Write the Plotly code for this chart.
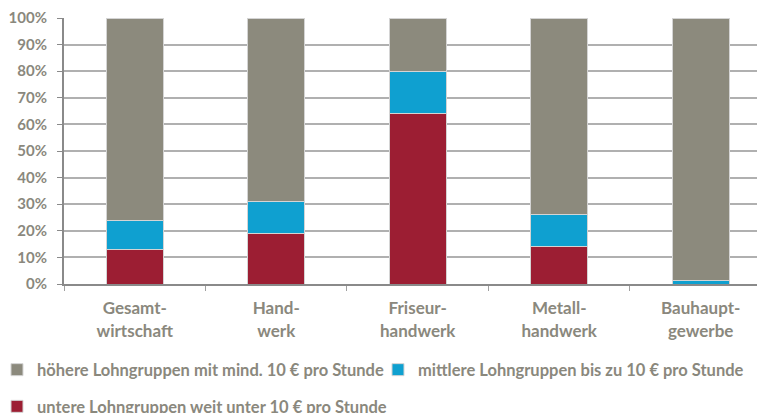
import plotly.graph_objects as go

categories = ["Gesamt-<br>wirtschaft", "Hand-<br>werk", "Friseur-<br>handwerk", "Metall-<br>handwerk", "Bauhaupt-<br>gewerbe"]
untere = [13, 19, 64, 14, 0]
mittlere = [11, 12, 16, 12, 1.5]
hoehere = [76, 69, 20, 74, 98.5]

names = ["untere Lohngruppen weit unter 10 € pro Stunde",
         "mittlere Lohngruppen bis zu 10 € pro Stunde",
         "höhere Lohngruppen mit mind. 10 € pro Stunde"]
colors = ["#9c1e33", "#0fa0d0", "#8c8a7d"]
text_color = "#8a887d"
font_family = "Lato, Open Sans, sans-serif"

fig = go.Figure()
fig.add_trace(go.Bar(x=categories, y=untere, name=names[0], marker=dict(color=colors[0], line=dict(color="#d4d4d4", width=1)), width=0.4, legend="legend2"))
fig.add_trace(go.Bar(x=categories, y=mittlere, name=names[1], marker=dict(color=colors[1], line=dict(color="#d4d4d4", width=1)), width=0.4, legend="legend", legendrank=2))
fig.add_trace(go.Bar(x=categories, y=hoehere, name=names[2], marker=dict(color=colors[2], line=dict(color="#d4d4d4", width=1)), width=0.4, legend="legend", legendrank=1))

legend_font = dict(family=font_family, size=16.5, color=text_color, weight="bold")
fig.update_layout(
    barmode="stack",
    width=765, height=405,
    margin=dict(l=56, r=0, t=10, b=129, autoexpand=False),
    paper_bgcolor="white", plot_bgcolor="white",
    font=dict(family=font_family, size=15, color=text_color, weight="bold"),
    showlegend=True,
    legend=dict(orientation="h", x=-0.0945, xanchor="left", y=-0.323, yanchor="middle",
                font=legend_font, entrywidth=336, entrywidthmode="pixels", traceorder="normal"),
    legend2=dict(orientation="h", x=-0.0945, xanchor="left", y=-0.461, yanchor="middle",
                 font=legend_font),
    xaxis=dict(range=[-0.5, 4.511], showline=True, linecolor="#8a8a8a", linewidth=2,
               ticks="outside", tickson="boundaries", ticklen=5, tickcolor="#a0a0a0",
               ticklabelstandoff=8,
               tickfont=dict(family=font_family, size=17, color=text_color, weight="bold"),
               showgrid=False),
    yaxis=dict(range=[0, 100], tickvals=[0, 10, 20, 30, 40, 50, 60, 70, 80, 90, 100],
               ticktext=["0%", "10%", "20%", "30%", "40%", "50%", "60%", "70%", "80%", "90%", "100%"],
               showline=True, linecolor="#8a8a8a", linewidth=2, ticks="outside", ticklen=5,
               tickcolor="#8a8a8a", showgrid=True, gridcolor="#b0b0b0", gridwidth=1.5,
               ticklabelstandoff=7,
               tickfont=dict(family=font_family, size=15, color=text_color, weight="bold"),
               zeroline=False),
)

fig.write_html("out.html")
